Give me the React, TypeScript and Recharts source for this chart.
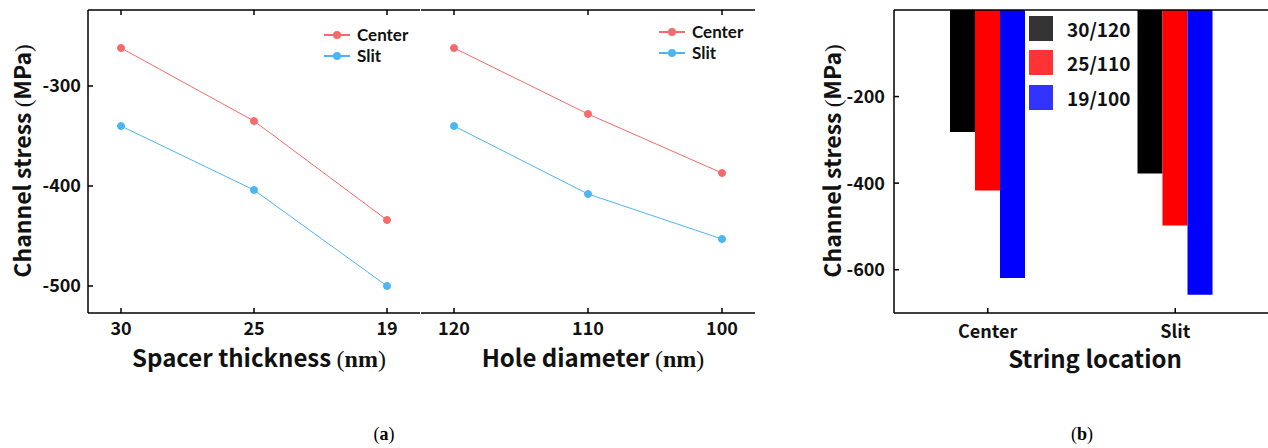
import React from 'react';
import {
  LineChart, Line, BarChart, Bar, XAxis, YAxis, Legend,
} from 'recharts';

// panel (a) left: spacer thickness sweep
const spacerLabels = ['30', '25', '19'];
const spacerCenter = [-262, -335, -434];
const spacerSlit = [-340, -404, -500];

// panel (a) right: hole diameter sweep
const holeLabels = ['120', '110', '100'];
const holeCenter = [-262, -328, -387];
const holeSlit = [-340, -408, -453];

// panel (b): string location bars
const locations = ['Center', 'Slit'];
const stress30_120 = [-282, -378];
const stress25_110 = [-417, -498];
const stress19_100 = [-619, -658];

const lineTicks = [-300, -400, -500];
const barTicks = [-200, -400, -600];

const RED = '#f56b6b';
const BLUE = '#4cb6f2';
const SANS = '"Noto Sans CJK KR", "Noto Sans", sans-serif';
const SERIF = '"Liberation Serif", "DejaVu Serif", serif';

const spacerData = spacerLabels.map((x, i) => ({ x, center: spacerCenter[i], slit: spacerSlit[i] }));
const holeData = holeLabels.map((x, i) => ({ x, center: holeCenter[i], slit: holeSlit[i] }));
const barData = locations.map((x, i) => ({
  x, a: stress30_120[i], b: stress25_110[i], c: stress19_100[i],
}));

const tickFont = { fill: '#111', fontSize: 18, fontFamily: SANS, fontWeight: 700 };
const axisLine = { stroke: '#000', strokeWidth: 1.5 };
const tickLine = { stroke: '#000', strokeWidth: 1.5 };
const blank = () => '';

function LineLegend(props: any) {
  const { payload } = props;
  return (
    <div>
      {(payload || []).map((p: any) => (
        <div key={p.value} style={{ display: 'flex', alignItems: 'center', height: 21 }}>
          <svg width={26} height={10} style={{ marginRight: 7 }}>
            <line x1={0} y1={5} x2={26} y2={5} stroke={p.color} strokeWidth={2} />
            <circle cx={13} cy={5} r={4} fill={p.color} />
          </svg>
          <span style={{ fontFamily: 'Lato, "Noto Sans", sans-serif', fontWeight: 700, fontSize: 17, color: '#111', lineHeight: 1 }}>
            {p.value}
          </span>
        </div>
      ))}
    </div>
  );
}

const legendColors = ['#333333', '#ff3333', '#3333ff'];

function BarLegend(props: any) {
  const { payload } = props;
  return (
    <div style={{ background: '#fff', paddingLeft: 2, width: 108 }}>
      {(payload || []).map((p: any, i: number) => (
        <div key={p.value} style={{ display: 'flex', alignItems: 'center', height: 34.5 }}>
          <div style={{ width: 24, height: 25, background: legendColors[i], marginRight: 14 }} />
          <span style={{ fontFamily: SANS, fontWeight: 700, fontSize: 19, color: '#111', lineHeight: 1 }}>{p.value}</span>
        </div>
      ))}
    </div>
  );
}

function Title({ x, y, rotate, size, children }: any) {
  return (
    <div
      style={{
        position: 'absolute', left: x, top: y, whiteSpace: 'nowrap',
        transform: `translate(-50%, -50%)${rotate ? ' rotate(-90deg)' : ''}`,
        fontFamily: SANS, fontWeight: 700, fontSize: size, color: '#111', lineHeight: 1,
      }}
    >
      {children}
    </div>
  );
}

function Unit({ text, serifBody }: { text: string; serifBody?: boolean }) {
  return (
    <span>
      <span style={{ fontFamily: SERIF, fontWeight: 400 }}>(</span>
      <span style={{ fontFamily: serifBody ? SERIF : SANS, fontWeight: 700 }}>{text}</span>
      <span style={{ fontFamily: SERIF, fontWeight: 400 }}>)</span>
    </span>
  );
}

function SweepChart({ data, left, width, margin, showLabels, legendLeft, legendTop }: any) {
  return (
    <div style={{ position: 'absolute', left, top: 0 }}>
      <LineChart width={width} height={380} data={data} margin={margin}>
        <XAxis
          xAxisId="b" dataKey="x" height={30} padding={{ left: 33, right: 33 }}
          axisLine={axisLine} tickLine={tickLine} tickSize={-5} tickMargin={14} tick={tickFont}
        />
        <XAxis
          xAxisId="t" dataKey="x" orientation="top" height={1} padding={{ left: 33, right: 33 }}
          axisLine={axisLine} tickLine={tickLine} tickSize={-5} tickFormatter={blank}
        />
        <YAxis
          yAxisId="l" type="number" domain={[-527, -224]} ticks={lineTicks} width={showLabels ? 60 : 0}
          axisLine={axisLine} tickLine={tickLine} tickSize={-5} tickMargin={12} tick={tickFont}
          tickFormatter={showLabels ? undefined : blank}
        />
        <YAxis
          yAxisId="r" orientation="right" type="number" domain={[-527, -224]} ticks={lineTicks} width={0}
          axisLine={axisLine} tickLine={tickLine} tickSize={-5} tickFormatter={blank}
        />
        <Legend
          layout="vertical" align="center" verticalAlign="middle" itemSorter="dataKey"
          content={<LineLegend />}
          wrapperStyle={{ left: legendLeft, top: legendTop, width: 'auto' }}
        />
        <Line
          xAxisId="b" yAxisId="l" dataKey="center" name="Center" stroke={RED} strokeWidth={1}
          dot={{ r: 3.5, fill: RED, stroke: RED }} isAnimationActive={false}
        />
        <Line
          xAxisId="b" yAxisId="l" dataKey="slit" name="Slit" stroke={BLUE} strokeWidth={1}
          dot={{ r: 3.5, fill: BLUE, stroke: BLUE }} isAnimationActive={false}
        />
      </LineChart>
    </div>
  );
}

export default function App() {
  return (
    <div style={{ position: 'absolute', left: 0, top: 0, width: 1268, height: 448, overflow: 'hidden', background: '#fff' }}>
      <SweepChart
        data={spacerData} left={0} width={430} showLabels
        margin={{ top: 9, right: 10, left: 28, bottom: 37 }}
        legendLeft={324} legendTop={24}
      />
      <SweepChart
        data={holeData} left={411} width={355} showLabels={false}
        margin={{ top: 9, right: 11, left: 10, bottom: 37 }}
        legendLeft={248} legendTop={21}
      />

      <div style={{ position: 'absolute', left: 800, top: 0 }}>
        <BarChart width={480} height={380} data={barData} margin={{ top: 9, right: 11, left: 34, bottom: 37 }} barSize={25} barGap={0}>
          <XAxis
            xAxisId="b" dataKey="x" height={30}
            axisLine={axisLine} tickLine={tickLine} tickSize={-5} tickMargin={17} tick={tickFont}
          />
          <XAxis
            xAxisId="t" dataKey="x" orientation="top" height={1}
            axisLine={axisLine} tickLine={false} tickFormatter={blank}
          />
          <YAxis
            yAxisId="l" type="number" domain={[-700, 0]} ticks={barTicks} width={60}
            axisLine={axisLine} tickLine={tickLine} tickSize={-5} tickMargin={14} tick={tickFont}
          />
          <YAxis
            yAxisId="r" orientation="right" type="number" domain={[-700, 0]} ticks={barTicks} width={0}
            axisLine={axisLine} tickLine={tickLine} tickSize={-5} tickFormatter={blank}
          />
          <Legend
            layout="vertical" align="center" verticalAlign="middle" itemSorter="dataKey"
            content={<BarLegend />}
            wrapperStyle={{ left: 227, top: 11, width: 'auto' }}
          />
          <Bar xAxisId="b" yAxisId="l" dataKey="a" name="30/120" fill="#000000" isAnimationActive={false} />
          <Bar xAxisId="b" yAxisId="l" dataKey="b" name="25/110" fill="#ff0000" isAnimationActive={false} />
          <Bar xAxisId="b" yAxisId="l" dataKey="c" name="19/100" fill="#0000ff" isAnimationActive={false} />
        </BarChart>
      </div>

      <Title x={22} y={161} size={23} rotate>Channel stress <Unit text="MPa" /></Title>
      <Title x={259} y={358} size={24}>Spacer thickness <Unit text="nm" serifBody /></Title>
      <Title x={593} y={358} size={24}>Hole diameter <Unit text="nm" serifBody /></Title>
      <Title x={832} y={161} size={23} rotate>Channel stress <Unit text="MPa" /></Title>
      <Title x={1095} y={358} size={24}>String location</Title>

      <div style={{ position: 'absolute', left: 384, top: 434, transform: 'translate(-50%, -50%)', fontFamily: SERIF, fontSize: 18, color: '#000' }}>
        (<b>a</b>)
      </div>
      <div style={{ position: 'absolute', left: 1082, top: 434, transform: 'translate(-50%, -50%)', fontFamily: SERIF, fontSize: 18, color: '#000' }}>
        (<b>b</b>)
      </div>
    </div>
  );
}
